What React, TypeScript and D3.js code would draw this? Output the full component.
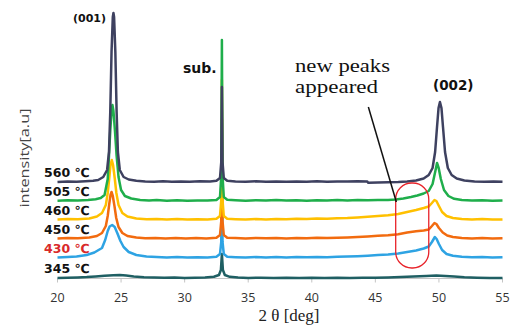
import { useEffect, useRef } from 'react';
import * as d3 from 'd3';

type Pt = [number, number];

// x ticks (2θ, deg)
const xTicks = [20, 25, 30, 35, 40, 45, 50, 55];

// sample labels, bottom to top
const temps = ['345 ℃', '430 ℃', '450 ℃', '460 ℃', '505 ℃', '560 ℃'];
const offsets = [0, 20, 39, 58, 77, 96];
const colors = ['#1f5f63', '#2ea3e3', '#f26b0f', '#ffc000', '#1fae4b', '#3e4160'];
const labelColors = ['#111', '#d92a2a', '#111', '#111', '#111', '#111'];

// intensities (a.u., above each trace's own baseline)
const t345: Pt[] = [
  [20, 0], [20.8, 0.3], [21.6, 0.6], [22.3, 1], [23, 1.6], [23.7, 2.3], [24.4, 2.8], [24.9, 3], [25.4, 2.4],
  [26, 1.6], [26.8, 0.8], [27.6, 0.4], [28.4, 0.2], [29.2, 0.4], [30, 0.1], [30.8, 0.3], [31.6, 0.5], [32.3, 1.2],
  [32.7, 3], [32.85, 8], [32.93, 24], [33.01, 8], [33.16, 3], [33.55, 1.2], [34.2, 0.4], [35, 0.1], [36, 0.3],
  [37, 0], [38, 0.3], [39, 0.1], [40, 0.3], [41, 0], [42, 0.3], [43, 0.1], [44, 0.3], [45, 0.2], [46, 0.5],
  [47, 0.9], [48, 1.5], [49, 2], [49.8, 2.4], [50.5, 2], [51.2, 1.4], [52, 0.7], [53, 0.3], [54, 0.1], [55, 0],
];
const t430: Pt[] = [
  [20, 0.5], [20.8, 1], [21.5, 1.5], [22.3, 3], [22.9, 5.5], [23.5, 10], [23.75, 18], [23.95, 27], [24.1, 31.5],
  [24.3, 33], [24.5, 31], [24.7, 25], [24.95, 17], [25.2, 11], [25.6, 6], [26.2, 3], [27, 1.5], [27.8, 1],
  [28.6, 0.5], [29.4, 0.9], [30.2, 0.4], [31, 0.8], [31.8, 0.6], [32.5, 1.3], [32.78, 4], [32.88, 16], [32.93, 100],
  [32.98, 16], [33.08, 4], [33.35, 1.3], [34, 0.8], [34.8, 0.4], [35.6, 0.9], [36.4, 0.5], [37.2, 0.9], [38, 0.6],
  [38.8, 1], [39.6, 0.7], [40.4, 1.1], [41.2, 0.8], [42, 1.2], [42.8, 1.4], [43.6, 1.8], [44.4, 2.3], [45.2, 2.9],
  [46, 3.5], [46.8, 4.5], [47.5, 6], [48.2, 7.5], [48.8, 9.5], [49.2, 11.5], [49.45, 16], [49.68, 21], [49.82, 19],
  [50, 14], [50.25, 8], [50.6, 4], [51.1, 2.2], [51.8, 1.2], [52.6, 0.7], [53.4, 1], [54.2, 0.5], [55, 0.8],
];
const t450: Pt[] = [
  [20, 0.4], [20.8, 0.9], [21.6, 0.7], [22.5, 1.5], [23.1, 3], [23.5, 6], [23.8, 13], [23.95, 23], [24.07, 35],
  [24.17, 44], [24.25, 47], [24.35, 43], [24.48, 33], [24.62, 21], [24.8, 12], [25.1, 6], [25.5, 3], [26.2, 1.5],
  [26.9, 0.8], [27.7, 1.1], [28.5, 0.4], [29.3, 0.9], [30.1, 0.5], [30.9, 1], [31.7, 0.6], [32.5, 1.2], [32.78, 4],
  [32.88, 18], [32.93, 120], [32.98, 18], [33.08, 4], [33.35, 1.3], [34, 0.9], [34.8, 0.5], [35.6, 1], [36.4, 0.7],
  [37.2, 1.1], [38, 0.6], [38.8, 1], [39.6, 0.8], [40.4, 1.2], [41.2, 0.9], [42, 1.3], [42.8, 1.6], [43.6, 2],
  [44.4, 2.6], [45.2, 3.2], [46, 3.8], [46.8, 4.8], [47.5, 6.5], [48.2, 7.8], [48.8, 8.6], [49.2, 9.5], [49.45, 13],
  [49.65, 16], [49.8, 15], [50, 11], [50.3, 6.5], [50.65, 3.5], [51.1, 2], [51.8, 1.1], [52.6, 0.6], [53.4, 0.9],
  [54.2, 0.4], [55, 0.7],
];
const t460: Pt[] = [
  [20, 0.5], [20.8, 1], [21.6, 0.8], [22.5, 1.5], [23.1, 3.5], [23.5, 7], [23.8, 15], [23.95, 27], [24.07, 42],
  [24.17, 55], [24.27, 60], [24.37, 55], [24.5, 42], [24.63, 27], [24.8, 15], [25.1, 7], [25.5, 3.5], [26.2, 1.5],
  [27, 0.8], [27.8, 1.1], [28.6, 0.5], [29.4, 0.9], [30.2, 0.4], [31, 0.8], [31.8, 0.5], [32.5, 1.2], [32.78, 4],
  [32.88, 20], [32.93, 140], [32.98, 20], [33.08, 4], [33.35, 1.3], [34, 0.8], [34.8, 0.4], [35.6, 0.9], [36.4, 0.6],
  [37.2, 1], [38, 0.7], [38.8, 1.2], [39.6, 0.9], [40.4, 1.4], [41.2, 1.3], [42, 1.8], [42.8, 2], [43.6, 2.6],
  [44.4, 3.2], [45.2, 4], [46, 4.8], [46.8, 6], [47.5, 8], [48.2, 10], [48.8, 12], [49.2, 13.5], [49.45, 17],
  [49.65, 20], [49.8, 19], [50, 14], [50.25, 8], [50.6, 4], [51.1, 2], [51.8, 1], [52.6, 0.6], [53.4, 0.9],
  [54.2, 0.4], [55, 0.6],
];
const t505: Pt[] = [
  [20, 0.3], [20.8, 0.8], [21.6, 0.5], [22.4, 1], [23, 1.8], [23.4, 3], [23.7, 6], [23.95, 22], [24.05, 45],
  [24.15, 70], [24.25, 90], [24.32, 96], [24.4, 90], [24.52, 70], [24.65, 45], [24.8, 24], [25, 11], [25.3, 5],
  [25.8, 2.5], [26.5, 1], [27.2, 0.5], [27.8, 0.9], [28.6, 0.3], [29.4, 0.7], [30.2, 0.2], [31, 0.6], [31.8, 0.4],
  [32.5, 1], [32.78, 4], [32.88, 25], [32.93, 161], [32.98, 25], [33.08, 4], [33.35, 1.2], [34, 0.8], [34.8, 0.3],
  [35.6, 0.7], [36.4, 0.4], [37.2, 0.9], [38, 0.4], [38.8, 0.8], [39.6, 0.3], [40.4, 0.8], [41.2, 0.5], [42, 0.9],
  [42.8, 0.6], [43.6, 1], [44.4, 0.7], [45.2, 1], [46, 1.1], [46.6, 1.4], [47.2, 2.5], [47.8, 4], [48.3, 5.5],
  [48.8, 7.5], [49.2, 10], [49.5, 17], [49.72, 30], [49.85, 38], [49.98, 33], [50.15, 22], [50.4, 11], [50.75, 5],
  [51.2, 2.2], [51.8, 1], [52.6, 0.5], [53.4, 0.8], [54.2, 0.3], [55, 0.6],
];
const t560: Pt[] = [
  [20, 0], [20.8, 0.6], [21.5, 0.2], [22.2, 0.8], [22.8, 1.2], [23.2, 2], [23.6, 5], [23.9, 12], [24.05, 30],
  [24.15, 70], [24.25, 130], [24.35, 165], [24.4, 169], [24.45, 165], [24.55, 130], [24.65, 70], [24.75, 30],
  [24.9, 12], [25.2, 5], [25.6, 2.5], [26.2, 1.2], [26.9, 0.5], [27.6, 0.3], [28.3, 0.7], [29, 0.2], [29.7, 0.6],
  [30.4, 0.3], [31.2, 0.7], [32, 0.6], [32.5, 1.2], [32.78, 4], [32.88, 20], [32.93, 95], [32.98, 20], [33.08, 4],
  [33.35, 1.2], [34, 0.6], [34.8, 0.2], [35.6, 0.7], [36.4, 0.3], [37.2, 0.6], [38, 0.2], [38.8, 0.6], [39.6, 0.3],
  [40.4, 0.7], [41.2, 0.2], [42, 0.6], [42.8, 0.4], [43.6, 0.8], [44.35, 0.6], [44.45, -0.8], [45.2, -0.6],
  [46, -0.3], [46.8, 0], [47.5, 0.6], [48.2, 1.5], [48.8, 3.5], [49.2, 7], [49.5, 14], [49.7, 30], [49.85, 55],
  [49.97, 74], [50.08, 80], [50.2, 74], [50.32, 55], [50.48, 30], [50.7, 14], [51, 7], [51.4, 3.5], [52, 1.5],
  [52.8, 0.5], [53.6, 0.2], [54.3, 0.5], [55, 0.3],
];
const traces = [t345, t430, t450, t460, t505, t560];

export default function App() {
  const svgRef = useRef<SVGSVGElement>(null);

  useEffect(() => {
    if (!svgRef.current) return;
    const width = 513;
    const height = 326;

    const svg = d3.select(svgRef.current);
    svg.selectAll('*').remove();

    const x = d3.scaleLinear().domain([20, 55]).range([57.5, 502.5]);
    const y = d3.scaleLinear().domain([0, 265]).range([278, 13]);

    svg.append('rect').attr('width', width).attr('height', height).attr('fill', '#fff');

    // axis
    const axis = svg.append('g').attr('transform', `translate(0,${y(0) + 0.5})`);
    axis
      .append('line')
      .attr('x1', x(20))
      .attr('x2', x(55))
      .attr('stroke', '#c4c4c4')
      .attr('stroke-width', 1.2);
    axis
      .selectAll('.tick')
      .data(xTicks)
      .enter()
      .append('line')
      .attr('x1', (d) => x(d))
      .attr('x2', (d) => x(d))
      .attr('y1', 0)
      .attr('y2', 4)
      .attr('stroke', '#c4c4c4');
    axis
      .selectAll('.tl')
      .data(xTicks)
      .enter()
      .append('text')
      .attr('x', (d) => x(d))
      .attr('y', 23)
      .attr('text-anchor', 'middle')
      .attr('font-family', 'Open Sans, sans-serif')
      .attr('font-size', 12.5)
      .attr('fill', '#333')
      .text((d) => d);

    svg
      .append('text')
      .attr('x', 289)
      .attr('y', 321)
      .attr('text-anchor', 'middle')
      .attr('font-family', 'Liberation Serif, serif')
      .attr('font-size', 17)
      .attr('fill', '#222')
      .text('2 θ [deg]');

    svg
      .append('text')
      .attr('transform', 'translate(29,158) rotate(-90)')
      .attr('text-anchor', 'middle')
      .attr('font-family', 'Open Sans, sans-serif')
      .attr('font-size', 13)
      .attr('fill', '#444')
      .attr('textLength', 99)
      .attr('lengthAdjust', 'spacingAndGlyphs')
      .text('intensity[a.u]');

    // traces, lowest first so upper ones sit on top
    const line = d3
      .line<Pt>()
      .x((d) => x(d[0]))
      .curve(d3.curveLinear);

    traces.forEach((tr, i) => {
      svg
        .append('path')
        .datum(tr)
        .attr('fill', 'none')
        .attr('stroke', colors[i])
        .attr('stroke-width', 2.5)
        .attr('stroke-linejoin', 'round')
        .attr('d', line.y((d) => y(d[1] + offsets[i])));
    });

    // sample labels
    svg
      .selectAll('.lab')
      .data(temps)
      .enter()
      .append('text')
      .attr('x', 44)
      .attr('y', (_, i) => y(offsets[i]) - 5)
      .attr('font-family', 'DejaVu Sans, sans-serif')
      .attr('font-weight', 'bold')
      .attr('font-size', 12.5)
      .attr('fill', (_, i) => labelColors[i])
      .text((d) => d);

    // peak labels
    const bold = (t: string, px: number, py: number, fs: number) =>
      svg
        .append('text')
        .attr('x', px)
        .attr('y', py)
        .attr('font-family', 'DejaVu Sans, sans-serif')
        .attr('font-weight', 'bold')
        .attr('font-size', fs)
        .attr('fill', '#111')
        .text(t);
    bold('(001)', 73, 22, 11);
    bold('sub.', 183, 73, 14);
    bold('(002)', 433, 90, 13.5);

    // annotation
    svg
      .append('rect')
      .attr('x', x(46.6))
      .attr('y', y(95))
      .attr('width', x(49.2) - x(46.6))
      .attr('height', y(10) - y(95))
      .attr('rx', 16)
      .attr('fill', 'none')
      .attr('stroke', '#e8232a')
      .attr('stroke-width', 1.3);

    svg
      .append('line')
      .attr('x1', x(44.45))
      .attr('y1', y(171))
      .attr('x2', x(46.65))
      .attr('y2', y(76))
      .attr('stroke', '#111')
      .attr('stroke-width', 1.5);

    const note = svg
      .append('g')
      .attr('font-family', 'Liberation Serif, serif')
      .attr('font-size', 19)
      .attr('fill', '#111');
    note
      .append('text')
      .attr('x', 295)
      .attr('y', 72)
      .attr('textLength', 95)
      .attr('lengthAdjust', 'spacingAndGlyphs')
      .text('new peaks');
    note
      .append('text')
      .attr('x', 295)
      .attr('y', 93)
      .attr('textLength', 83)
      .attr('lengthAdjust', 'spacingAndGlyphs')
      .text('appeared');
  }, []);

  return (
    <svg
      ref={svgRef}
      width={513}
      height={326}
      viewBox="0 0 513 326"
      style={{ position: 'absolute', left: 0, top: 0 }}
    />
  );
}
